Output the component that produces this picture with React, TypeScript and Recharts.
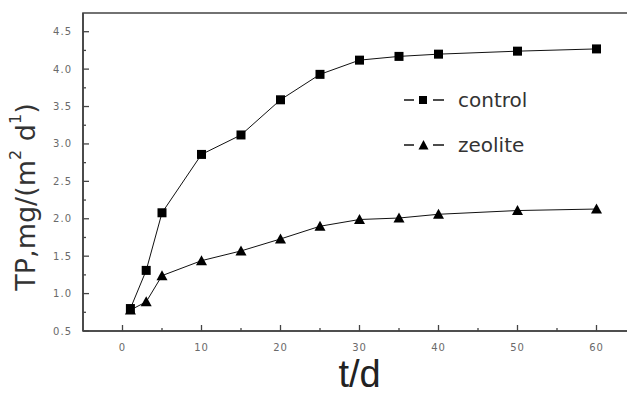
import React from 'react';
import {
  LineChart,
  Line,
  XAxis,
  YAxis,
  ReferenceArea,
  Legend
} from 'recharts';

const days = [1, 3, 5, 10, 15, 20, 25, 30, 35, 40, 50, 60];
const control = [0.8, 1.31, 2.08, 2.86, 3.12, 3.59, 3.93, 4.12, 4.17, 4.2, 4.24, 4.27];
const zeolite = [0.78, 0.89, 1.24, 1.44, 1.57, 1.73, 1.9, 1.99, 2.01, 2.06, 2.11, 2.13];

const xTicks = [0, 5, 10, 15, 20, 25, 30, 35, 40, 45, 50, 55, 60];
const yTicks = [0.5, 0.75, 1, 1.25, 1.5, 1.75, 2, 2.25, 2.5, 2.75, 3, 3.25, 3.5, 3.75, 4, 4.25, 4.5];

const data = days.map((d, i) => ({ t: d, control: control[i], zeolite: zeolite[i] }));

const AXIS = '#444';
const TICK_TEXT = '#6a6a6a';
const FONT = '"DejaVu Sans", sans-serif';

const SquareDot = ({ cx, cy }: any) => {
  if (cx == null || cy == null) return null;
  return <rect x={cx - 4.5} y={cy - 4.5} width={9} height={9} fill="#000" />;
};

const TriangleDot = ({ cx, cy }: any) => {
  if (cx == null || cy == null) return null;
  return <polygon points={`${cx},${cy - 5.5} ${cx + 5.5},${cy + 4.5} ${cx - 5.5},${cy + 4.5}`} fill="#000" />;
};

const XTick = ({ x, y, payload }: any) => {
  const major = payload.value % 10 === 0;
  return (
    <g>
      <line x1={x} x2={x} y1={y} y2={y - (major ? 6 : 3)} stroke={AXIS} strokeWidth={1.3} />
      {major && (
        <text x={x} y={y + 20} textAnchor="middle" fontSize={10} fill={TICK_TEXT} fontFamily={FONT} letterSpacing={1}>
          {payload.value}
        </text>
      )}
    </g>
  );
};

const YTick = ({ x, y, payload }: any) => {
  const v = payload.value;
  const major = Math.abs(v * 2 - Math.round(v * 2)) < 1e-6;
  return (
    <g>
      <line x1={x} x2={x + (major ? 6 : 3)} y1={y} y2={y} stroke={AXIS} strokeWidth={1.3} />
      {major && (
        <text x={x - 11} y={y + 3.5} textAnchor="end" fontSize={10} fill={TICK_TEXT} fontFamily={FONT} letterSpacing={1}>
          {v.toFixed(1)}
        </text>
      )}
    </g>
  );
};

const YLabel = ({ viewBox }: any) => {
  const cx = viewBox.x - 8;
  const cy = viewBox.y + viewBox.height / 2 + 25;
  return (
    <text
      x={cx}
      y={cy}
      transform={`rotate(-90, ${cx}, ${cy})`}
      textAnchor="middle"
      dominantBaseline="central"
      fontSize={27}
      fill="#333"
      fontFamily={FONT}
    >
      TP,mg/(m<tspan dy={-10} fontSize={16}>2</tspan>
      <tspan dy={10}> d</tspan>
      <tspan dy={-10} fontSize={16}>1</tspan>
      <tspan dy={10}>)</tspan>
    </text>
  );
};

const XLabel = ({ viewBox }: any) => {
  const cx = viewBox.x + viewBox.width / 2;
  return (
    <text x={cx} y={viewBox.y + 56} textAnchor="middle" fontSize={38} fill="#222" fontFamily='"Liberation Sans", Arial, sans-serif'>
      t/d
    </text>
  );
};

const renderLegend = (props: any) => {
  const { payload } = props;
  return (
    <div style={{ fontFamily: FONT }}>
      {payload.map((entry: any) => (
        <div key={entry.value} style={{ display: 'flex', alignItems: 'center', height: 22, marginBottom: 23 }}>
          <svg width={44} height={22}>
            <line x1={0} x2={10} y1={11} y2={11} stroke="#111" strokeWidth={1.5} />
            <line x1={29} x2={40} y1={11} y2={11} stroke="#111" strokeWidth={1.5} />
            {entry.dataKey === 'control' ? (
              <rect x={15} y={7} width={8} height={8} fill="#000" />
            ) : (
              <polygon points="19.5,6 24.5,15.5 14.5,15.5" fill="#000" />
            )}
          </svg>
          <span style={{ fontSize: 20, color: '#333', marginLeft: 10 }}>{entry.value}</span>
        </div>
      ))}
    </div>
  );
};

export default function App() {
  return (
    <div style={{ position: 'absolute', left: 0, top: 0, width: 627, height: 394, overflow: 'hidden', background: '#fff' }}>
      <LineChart width={640} height={394} data={data} margin={{ top: 13, right: 4, bottom: 33, left: 33 }}>
        <ReferenceArea x1={-5} x2={65} y1={0.5} y2={4.75} fill="none" stroke={AXIS} strokeWidth={1.6} ifOverflow="visible" />
        <XAxis
          dataKey="t"
          type="number"
          domain={[-5, 65]}
          ticks={xTicks}
          interval={0}
          height={30}
          tickSize={0}
          tickMargin={0}
          tick={<XTick />}
          axisLine={{ stroke: AXIS, strokeWidth: 1.6 }}
          tickLine={false}
          allowDataOverflow
          label={<XLabel />}
        />
        <YAxis
          type="number"
          domain={[0.5, 4.75]}
          ticks={yTicks}
          interval={0}
          width={50}
          tickSize={0}
          tickMargin={0}
          tick={<YTick />}
          axisLine={{ stroke: AXIS, strokeWidth: 1.6 }}
          tickLine={false}
          allowDataOverflow
          label={<YLabel />}
        />
        <Legend
          content={renderLegend}
          layout="vertical"
          align="center"
          verticalAlign="middle"
          wrapperStyle={{ position: 'absolute', left: 404, top: 89, width: 'auto' }}
        />
        <Line
          dataKey="zeolite"
          name="zeolite"
          stroke="#111"
          strokeWidth={1}
          dot={<TriangleDot />}
          activeDot={false}
          isAnimationActive={false}
        />
        <Line
          dataKey="control"
          name="control"
          stroke="#111"
          strokeWidth={1}
          dot={<SquareDot />}
          activeDot={false}
          isAnimationActive={false}
        />
      </LineChart>
    </div>
  );
}
